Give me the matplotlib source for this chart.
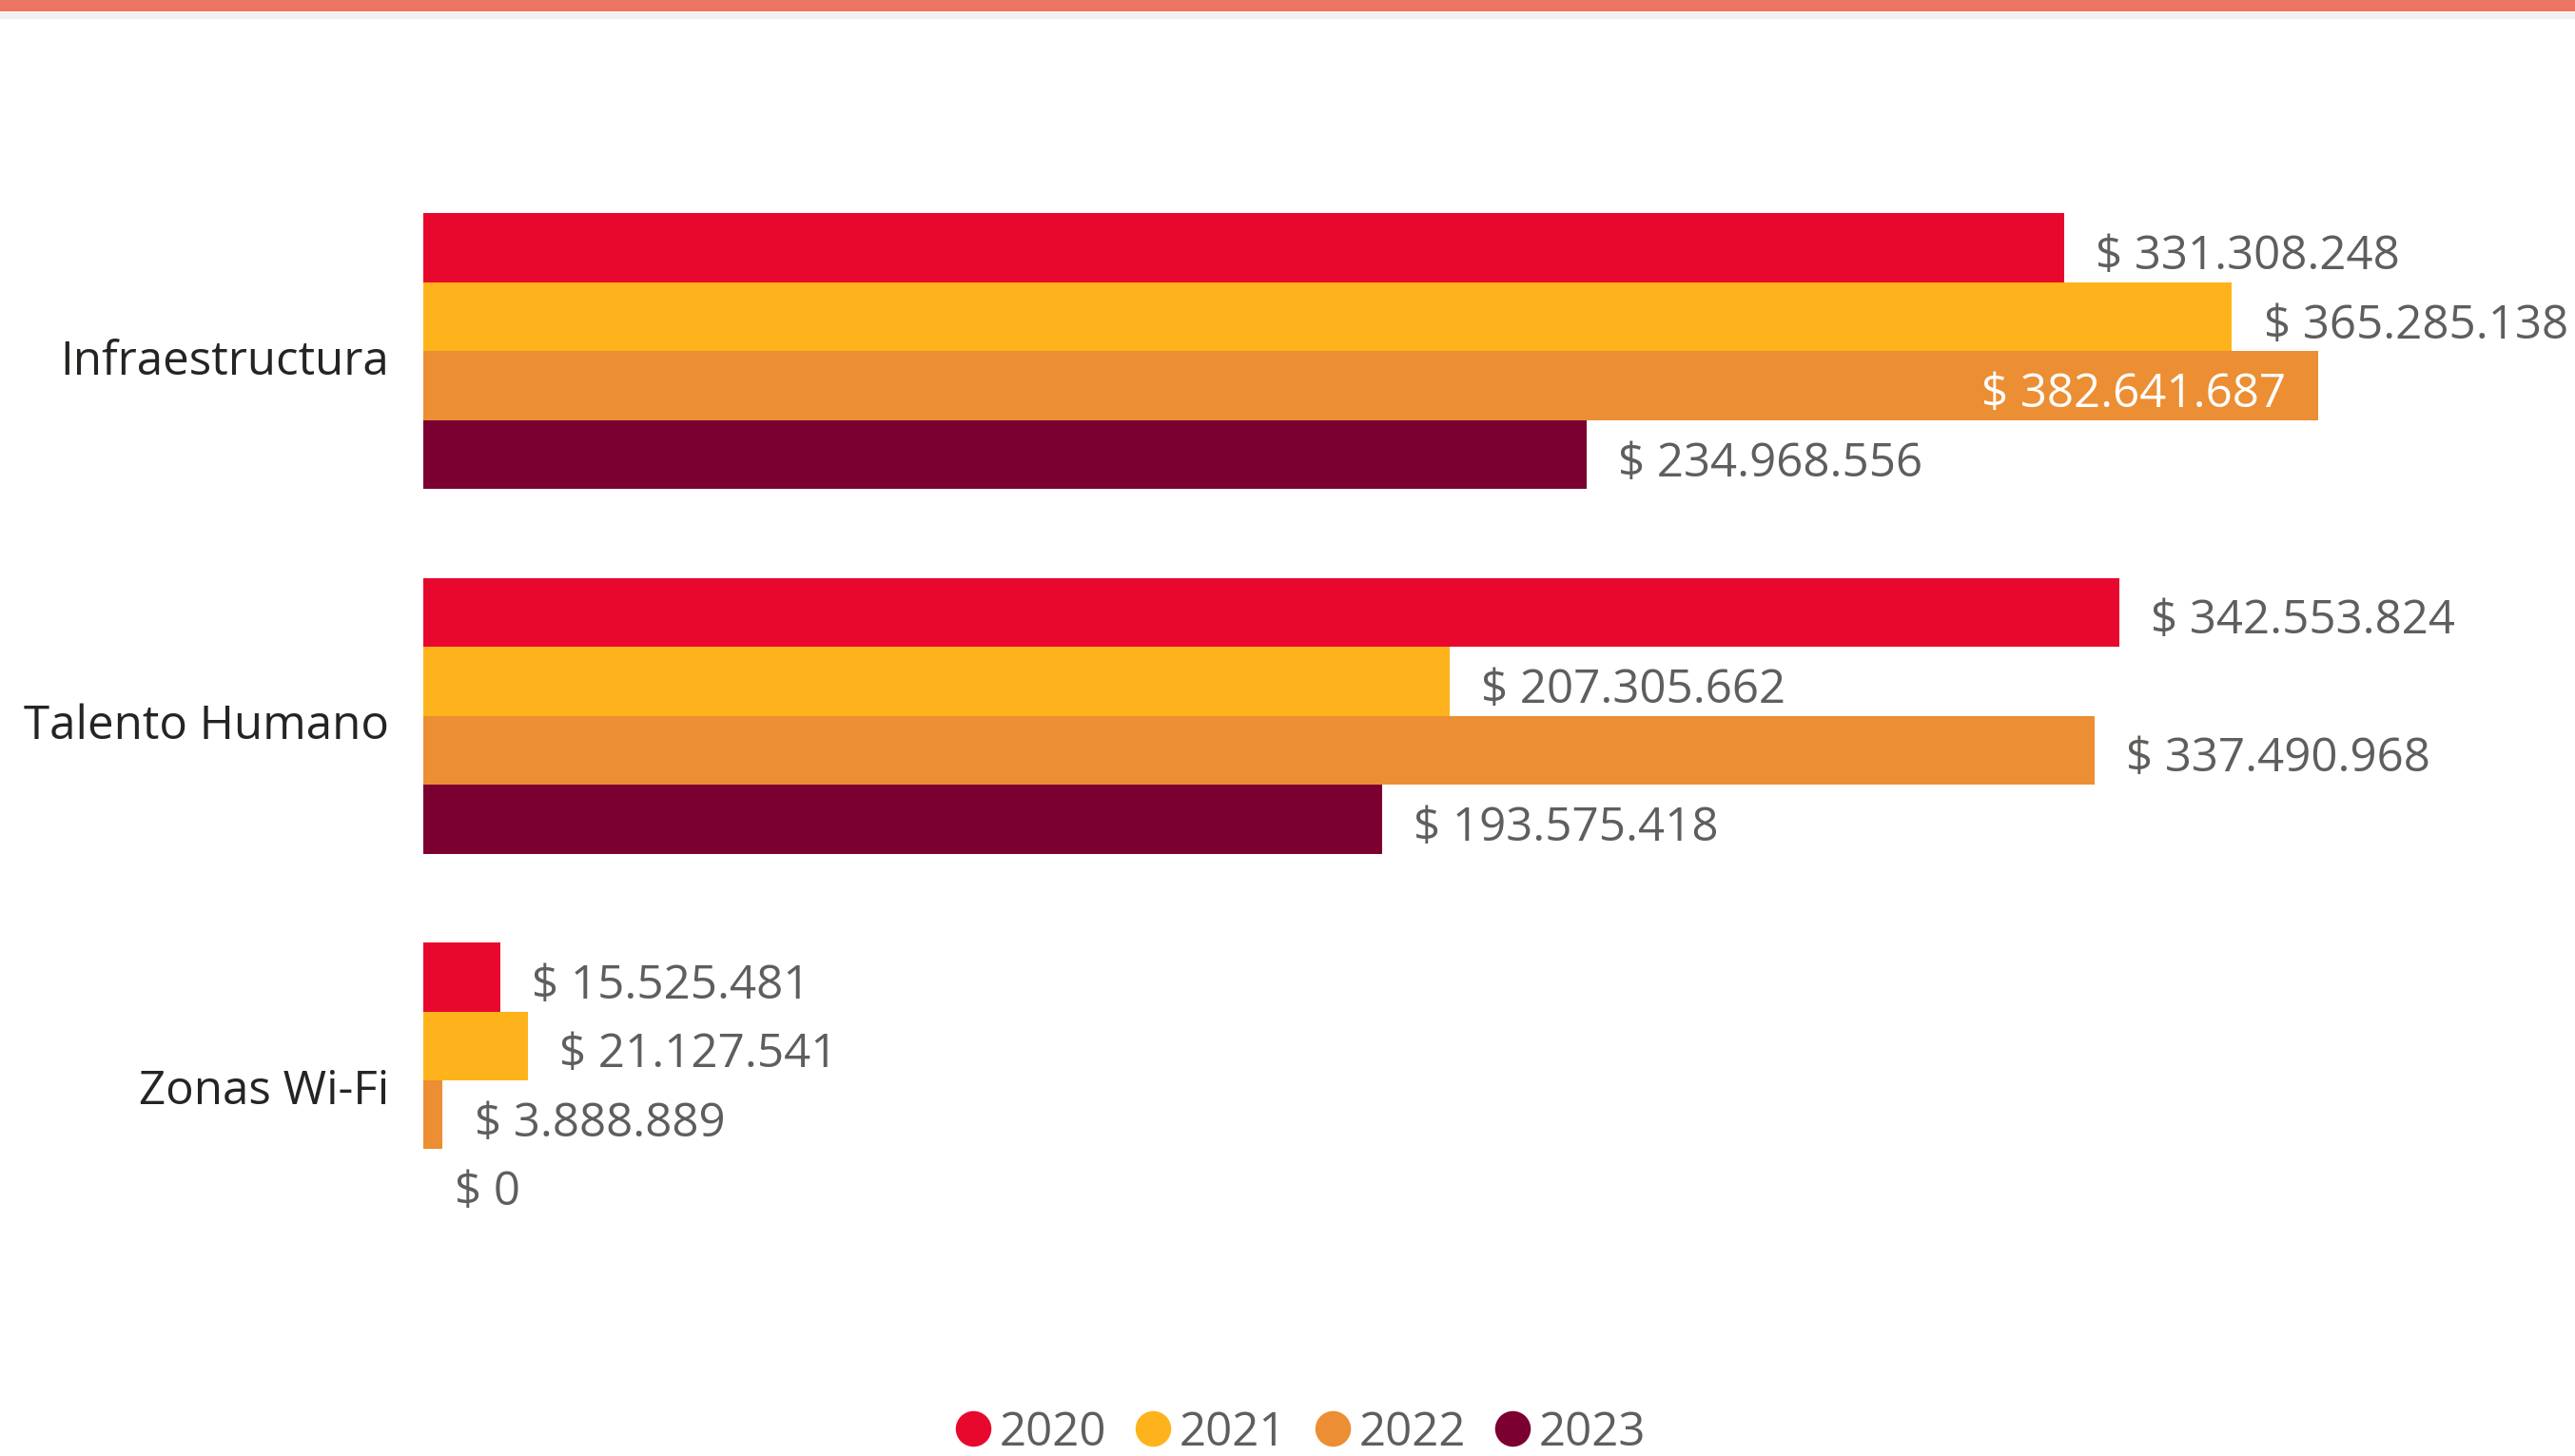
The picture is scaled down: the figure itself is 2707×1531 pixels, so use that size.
import matplotlib
matplotlib.use("Agg")
import matplotlib.pyplot as plt
from matplotlib.lines import Line2D
from matplotlib.patches import Rectangle
from matplotlib.transforms import ScaledTranslation
import numpy as np

plt.rcParams['font.family'] = ['Open Sans', 'DejaVu Sans']

# Data
categories = ["Infraestructura", "Talento Humano", "Zonas Wi-Fi"]
years = ["2020", "2021", "2022", "2023"]
values_2020 = [331308248, 342553824, 15525481]
values_2021 = [365285138, 207305662, 21127541]
values_2022 = [382641687, 337490968, 3888889]
values_2023 = [234968556, 193575418, 0]
series = [values_2020, values_2021, values_2022, values_2023]
colors = ["#E9082D", "#FEB31C", "#EC8E33", "#7B0031"]

W, H = 2707, 1531
fig = plt.figure(figsize=(W / 100, H / 100), dpi=100)

# Coral header band with a faint shadow underneath
fig.add_artist(Rectangle((0, 1 - 12 / H), 1, 12 / H, transform=fig.transFigure,
                         color="#EC7462", lw=0, zorder=5))
fig.add_artist(Rectangle((0, 1 - 20 / H), 1, 7 / H, transform=fig.transFigure,
                         color="#F1F1F1", lw=0, zorder=4))

ax_left = 445 / W
ax_width = 2004 / W
ax_top = 177.7 / H
ax_bottom = 1327.7 / H
ax = fig.add_axes([ax_left, 1 - ax_bottom, ax_width, ax_bottom - ax_top])

xmax = 385e6
ax.set_xlim(0, xmax)
ax.set_ylim(2.5, -0.5)

h = 0.189
y = np.arange(len(categories))
label_color = "#605E5C"
vmax = max(max(s) for s in series)

for i, (vals, col) in enumerate(zip(series, colors)):
    offs = (i - 1.5) * h
    ax.barh(y + offs, vals, height=h, color=col, lw=0)
    for yy, v in zip(y + offs, vals):
        txt = "$ " + f"{v:,}".replace(",", ".")
        if v >= 0.99 * vmax:
            ax.annotate(txt, (v, yy), xytext=(-24, -7), textcoords="offset points",
                        ha="right", va="center", fontsize=35.5, color="white")
        else:
            ax.annotate(txt, (v, yy), xytext=(24, -7), textcoords="offset points",
                        ha="left", va="center", fontsize=35.5, color=label_color,
                        annotation_clip=False)

ax.set_yticks(y)
ax.set_yticklabels(categories, fontsize=35.5, color="#252423")
ax.tick_params(axis="y", length=0, pad=26)
shift = ScaledTranslation(0, -6 / 100, fig.dpi_scale_trans)
for lab in ax.get_yticklabels():
    lab.set_transform(lab.get_transform() + shift)
ax.xaxis.set_visible(False)
for sp in ax.spines.values():
    sp.set_visible(False)

handles = [Line2D([], [], marker="o", ls="none", markersize=27, markerfacecolor=c,
                  markeredgewidth=0) for c in colors]
leg = fig.legend(handles, years, loc="center", bbox_to_anchor=(0.504, 1 - 1507 / H),
                 ncol=4, frameon=False, fontsize=35.5, handletextpad=0.05,
                 columnspacing=0.5, handlelength=1.0, borderpad=0.1)
for t in leg.get_texts():
    t.set_color(label_color)

fig.savefig("out.png", dpi=100, facecolor="white")
